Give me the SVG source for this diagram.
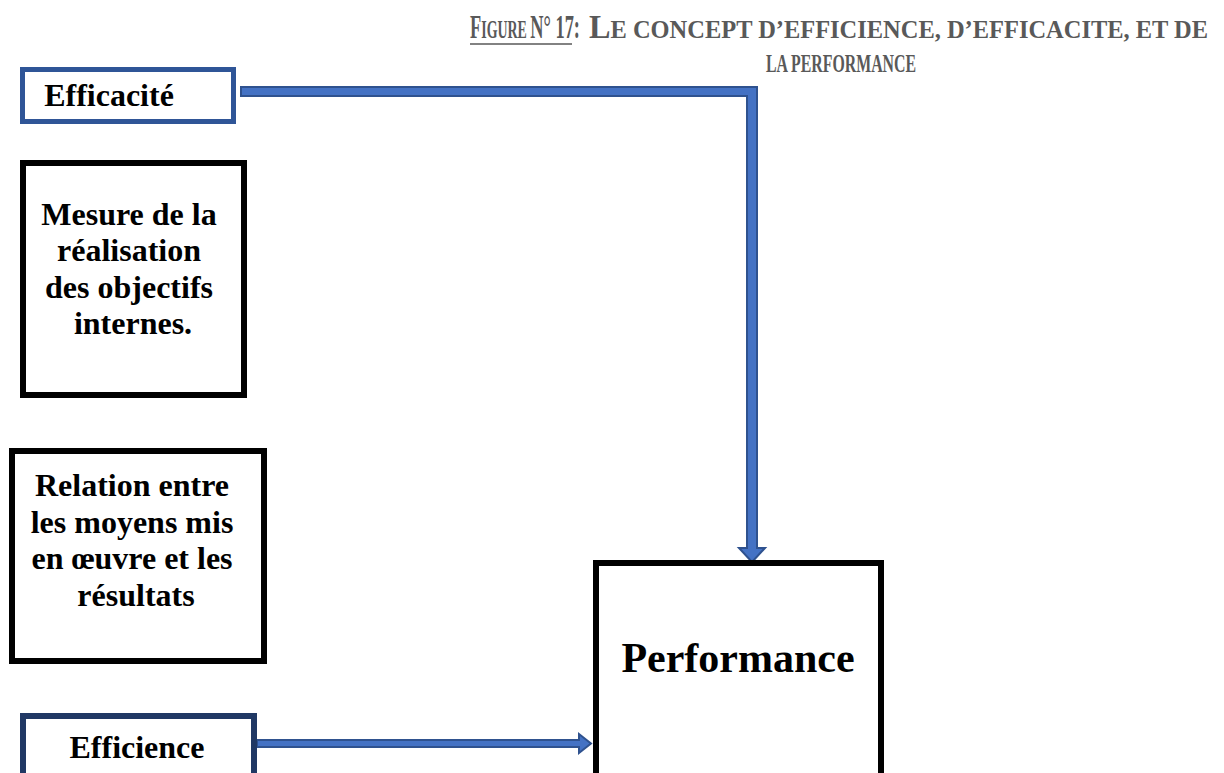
<svg xmlns="http://www.w3.org/2000/svg" width="1224" height="773" viewBox="0 0 1224 773">
  <style>
    .lbl { font-family: "Liberation Serif", "Times New Roman", serif; font-weight: bold; fill: #000; text-anchor: middle; }
    .box { fill: #fff; stroke: #000; stroke-width: 6; }
    .title { font-family: "Liberation Serif", "Times New Roman", serif; font-weight: bold; fill: #595959; }
    .arrow { fill: #4472C4; stroke: #2F528F; stroke-width: 2; stroke-linejoin: miter; }
  </style>
  <rect width="1224" height="773" fill="#fff"/>

  <!-- Caption, set in small capitals -->
  <g id="title">
    <text class="title" x="470" y="38" font-size="25" textLength="110" lengthAdjust="spacingAndGlyphs"><tspan font-size="33">F</tspan>IGURE <tspan font-size="33">N° 17:</tspan></text>
    <line x1="470" y1="44" x2="572" y2="44" stroke="#595959" stroke-width="1.6"/>
    <text class="title" x="589" y="38" font-size="25" textLength="619" lengthAdjust="spacingAndGlyphs"><tspan font-size="33">L</tspan>E CONCEPT D’EFFICIENCE, D’EFFICACITE, ET DE</text>
    <text class="title" x="766" y="72" font-size="25" textLength="150" lengthAdjust="spacingAndGlyphs">LA PERFORMANCE</text>
  </g>

  <!-- Connectors -->
  <g id="connectors">
    <path class="arrow" d="M241,87 H757 V548 H765 L752,562 L739,548 H747 V96 H241 Z"/>
    <path class="arrow" d="M257,740 H579 V734 L591,743.5 L579,753 V747 H257 Z"/>
  </g>

  <g id="efficacite">
    <rect x="22.5" y="69.5" width="211" height="52" fill="#fff" stroke="#2F5597" stroke-width="5"/>
    <text class="lbl" x="109" y="106" font-size="32">Efficacité</text>
  </g>

  <g id="mesure">
    <rect class="box" x="23" y="163" width="221" height="232"/>
    <text class="lbl" font-size="32">
      <tspan x="133" y="225">Mesure de la</tspan>
      <tspan x="133" y="261">réalisation</tspan>
      <tspan x="133" y="298">des objectifs</tspan>
      <tspan x="133" y="334">internes.</tspan>
    </text>
  </g>

  <g id="relation">
    <rect class="box" x="12" y="451" width="252" height="210"/>
    <text class="lbl" font-size="32">
      <tspan x="136" y="496">Relation entre</tspan>
      <tspan x="136" y="533">les moyens mis</tspan>
      <tspan x="136" y="569">en œuvre et les</tspan>
      <tspan x="136" y="606">résultats</tspan>
    </text>
  </g>

  <g id="efficience">
    <rect x="23" y="716" width="231" height="100" fill="#fff" stroke="#203864" stroke-width="6"/>
    <text class="lbl" x="137" y="758" font-size="32">Efficience</text>
  </g>

  <g id="performance">
    <rect class="box" x="596" y="563" width="285" height="260"/>
    <text class="lbl" x="738" y="672" font-size="42">Performance</text>
  </g>
</svg>
